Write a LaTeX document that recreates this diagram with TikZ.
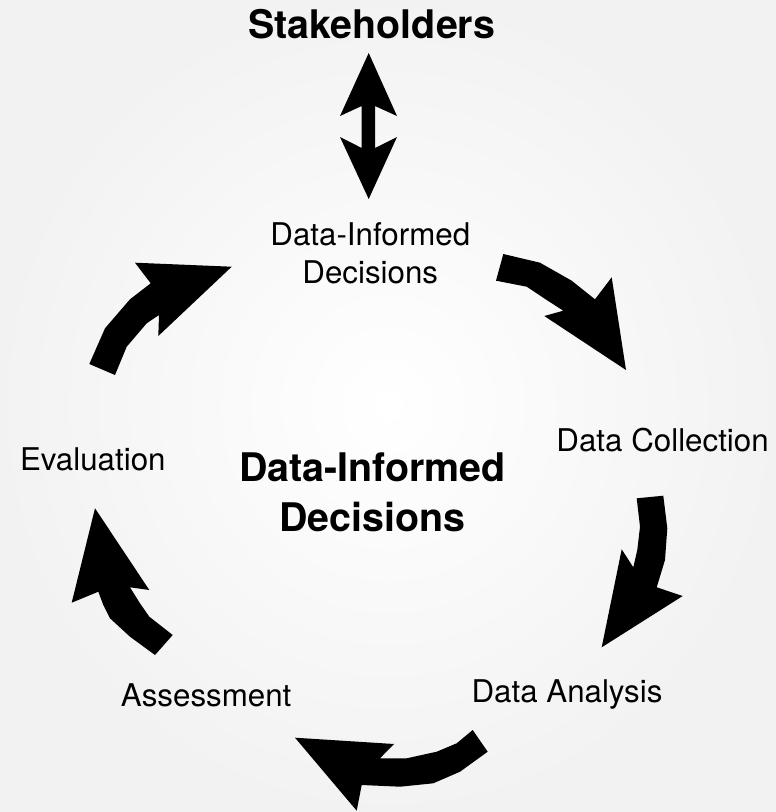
\documentclass[tikz,border=0pt]{standalone}
\usepackage{fontspec}
\setmainfont{TeX Gyre Heros}
\begin{document}
\begin{tikzpicture}[x=1pt,y=-1pt,
  lbl/.style={font=\fontsize{31.3}{38.3}\selectfont, anchor=base, inner sep=0pt, align=center},
  title/.style={font=\fontsize{39.4}{50}\selectfont\bfseries, anchor=base, inner sep=0pt, align=center},
  blockarrow/.style={fill=black}]
\useasboundingbox (0,0) rectangle (776,812);
\shade[inner color=white, outer color=black!5] (0,0) rectangle (776,812);

\node[title] (stake) at (371.7,38) {Stakeholders};
\node[lbl] (top) at (370.3,283.3) {Data-Informed\\Decisions};
\node[title] (center) at (372.5,531.7) {Data-Informed\\Decisions};
\node[lbl] (eval) at (92.8,470) {Evaluation};
\node[lbl] (coll) at (662.6,451.7) {Data Collection};
\node[lbl] (assess) at (206.2,706) {Assessment};
\node[lbl] (anal) at (567,702.7) {Data Analysis};

% double arrow stakeholders <-> decisions
\fill[blockarrow] (368.7,53) -- (397,116) -- (375,106) -- (375,148) -- (397,137) -- (368.7,199)
  -- (340,137) -- (361.7,148) -- (361.7,106) -- (340,116) -- cycle;
% decisions -> data collection
\fill[blockarrow] (503.3,254) -- (540,262.7) -- (571.7,280.7) -- (595,299.3) -- (611.7,277.3)
  -- (626,370) -- (544.3,316) -- (563.3,310.7) -- (546.7,300) -- (526.7,286.7) -- (496,280.7) -- cycle;
% data collection -> data analysis
\fill[blockarrow] (636.7,498.3) -- (663.3,495.7) -- (667.3,528.3) -- (665,560) -- (656.7,587.3)
  -- (682.7,596) -- (601.7,647.3) -- (621.7,549.3) -- (633.3,567.3) -- (637.3,550) -- (640,526.7) -- cycle;
% data analysis -> assessment
\fill[blockarrow] (472.7,730) -- (487.7,751.7) -- (460,771.7) -- (433.3,783.3) -- (400,786.7)
  -- (361.7,785) -- (356.7,810.7) -- (295,737.7) -- (394,744) -- (380,758.3) -- (406.7,758.3)
  -- (436.7,751.7) -- (456.7,743.3) -- cycle;
% assessment -> evaluation
\fill[blockarrow] (95,508.3) -- (149.3,590) -- (130,587.3) -- (140,603.3) -- (149.3,616.7)
  -- (172.7,635) -- (155,655) -- (130,636.7) -- (110,618.3) -- (103.3,605) -- (98.3,591.7)
  -- (71.7,602.7) -- cycle;
% evaluation -> decisions
\fill[blockarrow] (89.3,364) -- (105,328.3) -- (130,299.3) -- (150.7,283.3) -- (135,262.7)
  -- (231.7,266.7) -- (158.3,336) -- (159,315) -- (146.7,323.3) -- (126.7,346.7) -- (115,375) -- cycle;
\end{tikzpicture}
\end{document}
